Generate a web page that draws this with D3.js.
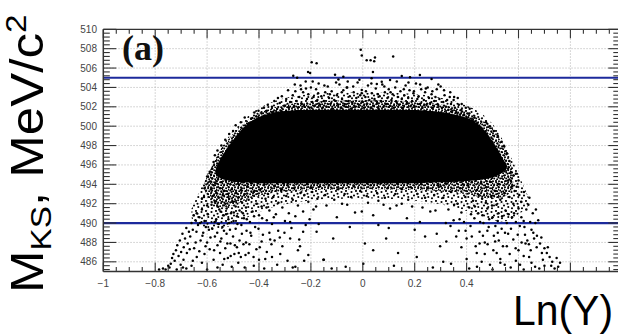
<!DOCTYPE html>
<html><head><meta charset="utf-8">
<script src="https://cdn.jsdelivr.net/npm/d3@7"></script>
<style>body{margin:0;background:#fff}svg{display:block}</style>
</head><body>
<svg id="c" width="618" height="336"></svg>
<script>
// ---- data ----
const xTickValues = [-1,-0.8,-0.6,-0.4,-0.2,0,0.2,0.4];
const xTickLabels = ["\u22121","\u22120.8","\u22120.6","\u22120.4","\u22120.2","0","0.2","0.4"];
const xGridValues = [-0.8,-0.6,-0.4,-0.2,0,0.2,0.4,0.6,0.8];
const yTickValues = [486,488,490,492,494,496,498,500,502,504,506,508,510];
const yTickLabels = ["486","488","490","492","494","496","498","500","502","504","506","508","510"];
const cutValues = [490,505];

// saturated core bounds
const coreX    = [-0.567,-0.55,-0.52,-0.50,-0.47,-0.44,-0.40,-0.35,-0.30,-0.20,-0.10,0.0,0.10,0.20,0.30,0.38,0.43,0.47,0.50,0.52,0.54,0.555];
const coreLow  = [495.0,494.6,494.4,494.3,494.2,494.2,494.1,494.1,494.1,494.1,494.1,494.1,494.1,494.1,494.2,494.3,494.4,494.5,494.7,494.9,495.2,495.6];
const coreHigh = [495.6,496.7,497.8,498.6,499.6,500.4,501.0,501.4,501.6,501.7,501.7,501.7,501.7,501.7,501.5,501.1,500.6,499.6,498.5,497.6,496.6,496.0];
// high-density halo bounds
const haloX    = [-0.61,-0.58,-0.55,-0.50,-0.45,-0.40,-0.30,-0.20,0.0,0.20,0.30,0.40,0.45,0.50,0.55,0.58];
const haloLow  = [493.3,492.0,491.5,491.8,492.4,492.9,493.3,493.4,493.5,493.4,493.3,493.0,492.7,492.4,492.6,493.6];
const haloHigh = [494.2,496.0,497.6,499.3,500.5,501.5,502.3,502.6,502.7,502.6,502.3,501.6,500.9,499.9,497.8,495.2];
// medium-density outer halo bounds
const outerX    = [-0.66,-0.62,-0.58,-0.54,-0.50,-0.45,-0.40,-0.30,-0.20,0.0,0.20,0.30,0.40,0.45,0.50,0.55,0.60,0.64];
const outerLow  = [490.5,489.5,489.2,489.4,489.8,490.5,491.2,492.0,492.4,492.6,492.4,492.0,491.3,490.8,490.3,490.0,490.8,491.8];
const outerHigh = [491.5,493.8,496.2,498.0,499.6,500.9,502.0,503.0,503.4,503.5,503.4,503.0,502.2,501.5,500.4,498.2,495.0,492.6];

const ptsTop = [[-0.197,506.6],[-0.178,506.5],[-0.211,505.6],[-0.203,505.5],[-0.268,505.2],[-0.253,505.0],[-0.107,505.3],[-0.008,507.9],[-0.004,507.3],[0.015,506.8],[0.03,506.8],[0.044,506.7],[0.047,507.1],[0.117,507.2],[0.039,505.6],
[-0.094,504.83],[-0.075,505.1],[0.034,504.94],[0.15,505.18],[0.182,505.04],[0.22,505.28],[0.265,504.87],[0.105,504.76],[0.073,504.59],[0.054,504.35],[0.30,504.1],[0.285,503.8],[-0.062,504.0],[-0.004,503.73],[-0.004,503.4]];

const ptsUpper = [[-0.44,500.3],[-0.43,500.8],[-0.41,501.0],[-0.40,500.7],[-0.39,501.3],[-0.38,501.0],[-0.37,501.6],[-0.36,501.2],[-0.35,502.0],[-0.345,501.5],[-0.33,501.8],[-0.32,502.4],[-0.315,501.6],[-0.30,502.1],[-0.295,502.8],[-0.285,501.9],[-0.28,502.5],[-0.27,503.2],[-0.265,502.0],[-0.26,503.6],[-0.255,502.6],[-0.25,501.9],[-0.245,503.0],[-0.24,504.2],[-0.235,502.3],[-0.23,503.5],[-0.225,502.0],[-0.22,504.6],[-0.215,502.8],[-0.21,503.3],[-0.205,501.9],[-0.20,504.0],[-0.195,502.5],[-0.19,503.0],[-0.185,502.1],[-0.18,503.8],[-0.175,502.7],[-0.17,504.4],[-0.165,502.2],[-0.16,503.1],[-0.155,501.9],[-0.15,502.6],[-0.145,503.5],[-0.14,502.0],[-0.135,504.1],[-0.13,502.9],[-0.125,502.3],[-0.12,503.6],[-0.115,501.8],[-0.11,502.7],[-0.10,503.2],[-0.095,502.2],[-0.09,504.3],[-0.085,501.9],[-0.08,502.8],[-0.075,503.7],[-0.07,502.3],[-0.065,502.0],[-0.06,504.0],[-0.055,502.6],[-0.05,503.1],[-0.045,501.8],[-0.04,502.4],[-0.035,503.5],[-0.03,502.0],[-0.025,502.9],[-0.02,504.5],[-0.015,502.2],[-0.01,503.2],[0.0,502.5],[0.005,501.9],[0.01,503.0],[0.015,502.3],[0.02,504.2],[0.025,502.7],[0.03,501.9],[0.035,503.4],[0.04,502.1],[0.045,502.8],[0.05,503.9],[0.055,502.4],[0.06,501.8],[0.065,503.1],[0.07,502.6],[0.075,504.3],[0.08,502.0],[0.085,503.5],[0.09,502.3],[0.095,502.9],[0.10,503.8],[0.105,502.1],[0.11,502.7],[0.115,503.3],[0.12,501.9],[0.125,504.0],[0.13,502.5],[0.135,503.0],[0.14,502.2],[0.145,503.6],[0.15,502.8],[0.155,501.9],[0.16,503.2],[0.165,504.2],[0.17,502.4],[0.175,502.9],[0.18,503.7],[0.185,502.1],[0.19,502.6],[0.195,503.4],[0.20,502.0],[0.205,504.4],[0.21,502.8],[0.215,503.1],[0.22,502.3],[0.225,503.8],[0.23,501.9],[0.235,502.7],[0.24,503.5],[0.245,502.2],[0.25,504.0],[0.255,502.9],[0.26,502.4],[0.265,503.3],[0.27,501.9],[0.275,502.6],[0.28,503.0],[0.29,502.2],[0.295,502.8],[0.305,501.9],[0.31,502.5],[0.315,503.2],[0.32,502.0],[0.325,502.7],[0.33,501.7],[0.335,503.0],[0.34,502.3],[0.345,501.6],[0.35,502.7],[0.355,501.9],[0.36,501.4],[0.37,502.2],[0.375,501.2],[0.38,501.7],[0.39,501.2],[0.40,500.9],[0.41,501.3],[0.42,500.6],[0.425,500.5],[0.43,500.9],[0.44,500.3],[0.45,500.0],[0.46,499.7],[0.47,499.3],
[-0.312,503.1],[-0.288,503.7],[-0.262,504.3],[-0.238,503.8],[-0.219,503.9],[-0.193,504.6],[-0.172,503.4],[-0.148,504.2],[-0.127,503.3],[-0.103,504.5],[-0.081,503.5],[-0.058,504.6],[-0.037,504.1],[-0.013,504.8],[0.012,503.6],[0.033,504.4],[0.058,503.3],[0.083,504.1],[0.107,503.5],[0.131,504.6],[0.158,503.8],[0.176,504.5],[0.197,503.6],[0.221,504.3],[0.243,503.9],[0.268,503.6],[0.291,504.3],[0.313,503.7],[0.337,503.5],[0.352,503.0],[0.366,502.9],[0.381,502.3],[0.397,501.9],[0.412,501.8],[-0.327,502.9],[-0.341,502.6],[-0.366,502.2],[-0.381,501.9],[-0.402,501.6],[-0.418,501.4]];

const ptsEdge = [[-0.575,496.3],[-0.58,495.6],[-0.585,495.0],[-0.59,495.3],[-0.6,494.8],[-0.57,497.0],[-0.56,497.5],[-0.545,498.0],[-0.53,498.6],[-0.515,499.2],[-0.5,499.5],[-0.49,500.1],[-0.47,500.4],[-0.455,500.9],[-0.61,493.6],[-0.62,492.5],
[0.56,495.6],[0.565,496.4],[0.57,495.2],[0.555,497.2],[0.545,497.9],[0.535,498.4],[0.52,499.0],[0.505,499.5],[0.49,500.0],[0.475,500.4],[0.58,494.9],[0.59,495.1],[0.60,494.4],[0.575,493.8]];

const ptsLowerLeft = [[-0.59,494.3],[-0.585,493.5],[-0.58,494.6],[-0.578,492.8],[-0.575,493.9],[-0.57,492.2],[-0.568,494.1],[-0.565,493.1],[-0.56,491.7],[-0.558,494.5],[-0.555,492.6],[-0.55,493.6],[-0.548,491.2],[-0.545,494.2],[-0.54,492.9],[-0.538,490.8],[-0.535,493.3],[-0.53,492.0],[-0.528,494.4],[-0.525,491.5],[-0.52,493.0],[-0.518,490.4],[-0.515,492.5],[-0.51,494.0],[-0.508,491.0],[-0.505,493.5],[-0.50,492.2],[-0.498,490.2],[-0.495,494.3],[-0.49,491.7],[-0.488,493.1],[-0.485,490.7],[-0.48,492.6],[-0.478,494.0],[-0.475,491.3],[-0.47,493.4],[-0.468,489.8],[-0.465,492.1],[-0.46,494.2],[-0.458,490.5],[-0.455,493.0],[-0.45,491.6],[-0.448,489.2],[-0.445,493.8],[-0.44,492.4],[-0.435,490.1],[-0.43,494.1],[-0.425,491.2],[-0.42,493.2],[-0.415,489.6],[-0.41,492.0],[-0.405,494.3],[-0.40,490.8],[-0.395,493.5],[-0.39,491.7],[-0.385,488.8],[-0.38,494.0],[-0.375,492.5],[-0.37,490.3],[-0.365,493.0],[-0.36,491.3],[-0.355,494.2],[-0.35,489.9],[-0.345,492.7],[-0.34,493.8],[-0.335,490.9],[-0.33,494.4],[-0.325,492.1],[-0.32,488.5],[-0.315,493.4],[-0.31,491.6],[-0.305,494.1],[-0.30,490.2],[-0.295,492.8],[-0.29,493.9],[-0.285,491.0],[-0.28,494.3],[-0.275,489.5],[-0.27,492.4],[-0.265,493.6],[-0.26,490.7],[-0.255,494.2],[-0.25,491.8],[-0.245,488.3],[-0.24,493.1],[-0.235,494.4],[-0.23,491.2],[-0.225,492.9],[-0.22,489.8],[-0.215,494.0],[-0.21,492.2],[-0.205,490.4],[-0.20,493.7],
[-0.64,491.0],[-0.63,490.6],[-0.62,491.4],[-0.61,490.2],[-0.60,491.8],[-0.605,489.6],[-0.615,489.0],[-0.625,488.2],[-0.635,489.8],[-0.645,490.3],[-0.655,489.3],[-0.66,490.0],[-0.665,488.6],[-0.67,489.1],[-0.675,487.9],[-0.68,489.5],[-0.685,488.4],[-0.69,487.5],[-0.695,488.9],[-0.70,487.0],[-0.705,488.2],[-0.71,486.6],[-0.715,487.7],[-0.72,487.2],[-0.725,486.1],[-0.73,486.8],[-0.735,486.4],[-0.74,485.8],[-0.745,485.4],[-0.75,485.6],[-0.76,485.2],[-0.77,485.3],[-0.785,485.2],[-0.65,487.4],[-0.64,486.5],[-0.63,487.1],[-0.62,485.9],[-0.61,486.8],[-0.60,488.0],[-0.59,487.3],[-0.58,489.4],[-0.575,486.2],[-0.57,488.6],[-0.565,490.4],[-0.56,487.7],[-0.555,489.9],[-0.55,486.9],[-0.545,488.4],[-0.54,485.7],[-0.535,489.2],[-0.53,487.4],[-0.525,488.9],[-0.52,486.4],[-0.515,490.0],[-0.51,487.9],[-0.505,485.5],[-0.50,488.6],[-0.495,486.8],[-0.49,489.4],[-0.485,487.5],[-0.48,485.9],[-0.475,488.2],[-0.47,486.5],[-0.46,487.8],[-0.455,485.4],[-0.45,488.0],[-0.44,486.9],[-0.43,488.7],[-0.42,485.6],[-0.41,487.3],[-0.40,486.2],[-0.39,488.1],[-0.38,485.3],[-0.37,487.0],[-0.36,489.0],[-0.35,486.5],[-0.34,488.2],[-0.33,485.7],[-0.31,487.6],[-0.29,486.1],[-0.28,488.4],[-0.26,485.5],[-0.25,487.2],[-0.23,489.1],[-0.21,486.7],[-0.68,485.3],[-0.66,485.6],[-0.60,485.2],[-0.56,485.4],
[-0.612,492.7],[-0.597,490.9],[-0.583,491.9],[-0.571,490.1],[-0.553,491.4],[-0.541,489.6],[-0.527,490.9],[-0.512,489.3],[-0.497,491.1],[-0.483,489.9],[-0.462,491.0],[-0.447,490.4],[-0.433,489.0],[-0.419,490.7],[-0.402,489.4],[-0.388,490.5],[-0.371,491.6],[-0.357,488.3],[-0.343,490.6],[-0.326,489.2],[-0.652,490.8],[-0.641,489.1],[-0.627,490.0],[-0.618,488.7],[-0.606,487.6],[-0.593,489.3],[-0.587,488.5],[-0.573,487.2],[-0.561,489.0],[-0.549,488.1],[-0.534,486.3],[-0.522,487.9],[-0.509,486.6],[-0.493,487.7],[-0.478,486.9],[-0.466,488.9],[-0.452,486.7],[-0.437,487.8],[-0.421,486.5],[-0.397,487.5],[-0.376,486.3],[-0.352,487.8],[-0.318,486.8],[-0.302,489.0],[-0.691,486.2],[-0.702,485.7],[-0.717,485.2],[-0.678,486.9],[-0.667,487.3],[-0.655,486.1],[-0.644,488.0],[-0.693,485.4]];

const ptsLowerMid = [[-0.19,491.4],[-0.17,489.9],[-0.15,486.2],[-0.14,491.8],[-0.114,488.4],[-0.1,490.6],[-0.08,492.0],[-0.066,485.5],[-0.05,489.6],[-0.03,491.1],[-0.004,491.2],[0.002,485.8],[0.008,487.9],[0.02,492.1],[0.04,487.2],[0.04,490.8],[0.06,489.8],[0.08,491.9],[0.09,488.4],[0.1,489.5],[0.105,491.5],[0.12,485.6],[0.136,486.9],[0.15,492.0],[0.17,490.5],[0.19,491.7],[0.208,486.5],[0.22,490.1],[0.24,488.6],[0.26,491.2],[0.285,488.9],[0.298,487.6],[0.27,485.4],[0.20,489.3],[-0.178,489.1],[-0.226,486.1],[-0.27,485.4],[-0.242,487.6],[-0.28,490.1],[-0.152,486.2],[-0.12,485.3],[0.32,490.0],[0.31,486.0],
[-0.195,493.2],[-0.185,494.2],[-0.175,492.5],[-0.165,493.8],[-0.155,494.4],[-0.145,492.9],[-0.13,493.9],[-0.12,494.3],[-0.11,492.4],[-0.095,493.5],[-0.085,494.2],[-0.07,493.0],[-0.06,494.4],[-0.045,492.7],[-0.035,493.8],[-0.02,494.2],[-0.01,493.3],[0.005,494.4],[0.015,492.8],[0.03,493.9],[0.045,494.3],[0.055,493.1],[0.07,494.1],[0.085,492.6],[0.095,493.6],[0.11,494.3],[0.125,493.0],[0.135,494.0],[0.15,493.5],[0.16,494.4],[0.175,492.4],[0.185,493.7],[0.2,494.2],[0.21,493.0],[0.225,494.0],[0.24,492.6],[0.25,493.6],[0.265,494.3],[0.275,492.9],[0.29,493.9],[-0.18,491.7],[-0.06,491.9],[0.06,492.3],[0.13,491.8],[0.23,491.6],[0.28,491.3]];

const ptsLowerRight = [[0.30,493.8],[0.31,492.6],[0.32,494.1],[0.33,491.4],[0.34,493.2],[0.35,490.3],[0.36,494.3],[0.365,492.0],[0.37,489.2],[0.375,493.6],[0.38,491.1],[0.385,494.0],[0.39,490.1],[0.395,492.7],[0.40,488.4],[0.405,493.9],[0.41,491.6],[0.415,489.7],[0.42,494.2],[0.425,492.3],[0.43,490.5],[0.435,487.6],[0.44,493.4],[0.445,491.0],[0.45,489.1],[0.455,494.1],[0.46,492.5],[0.465,490.0],[0.47,488.0],[0.475,493.7],[0.48,491.5],[0.485,489.6],[0.49,494.3],[0.495,492.8],[0.50,490.6],[0.505,488.7],[0.51,493.3],[0.515,491.9],[0.52,490.2],[0.525,494.0],[0.53,492.4],[0.535,489.4],[0.54,487.6],[0.545,493.1],[0.55,491.3],[0.555,490.0],[0.56,494.4],[0.565,492.7],[0.57,494.4],[0.575,490.6],[0.58,492.0],[0.585,493.3],[0.59,490.1],[0.593,493.75],[0.60,491.5],[0.605,489.7],[0.61,492.2],[0.62,490.2],[0.625,488.8],[0.63,491.4],[0.638,491.9],[0.645,490.1],[0.65,489.3],[0.66,488.4],[0.665,490.0],[0.676,490.3],[0.67,487.5],[0.683,487.9],[0.69,486.9],[0.70,487.4],[0.709,486.9],[0.72,486.5],[0.73,486.0],[0.747,486.4],[0.76,485.9],[0.664,485.5],[0.606,485.7],[0.49,485.7],[0.458,486.0],[0.439,486.9],[0.516,486.9],[0.555,487.6],[0.58,488.3],[0.60,487.2],[0.62,486.6],[0.64,487.8],[0.65,485.9],[0.68,485.3],[0.70,485.6],[0.59,486.1],[0.57,485.4],[0.53,485.9],[0.51,488.1],[0.47,486.8],[0.45,487.9],[0.42,488.6],[0.40,486.3],[0.38,487.5],[0.36,488.6],[0.34,485.8],[0.41,485.3],[0.52,489.0],[0.56,488.9],[0.48,489.2],[0.44,485.5],[0.50,485.2],[0.53,486.3],[0.62,485.2],
[0.432,491.7],[0.447,492.9],[0.461,490.8],[0.474,492.1],[0.487,490.4],[0.498,491.8],[0.511,489.7],[0.523,491.0],[0.537,490.7],[0.548,489.0],[0.562,490.9],[0.571,489.4],[0.583,491.0],[0.597,488.8],[0.611,490.6],[0.623,489.6],[0.634,488.2],[0.647,487.2],[0.657,489.0],[0.671,488.7],[0.688,488.5],[0.694,486.2],[0.713,487.5],[0.726,485.6],[0.739,485.3],[0.753,485.5],[0.641,486.5],[0.627,487.9],[0.612,488.0],[0.589,487.4],[0.566,486.8],[0.547,485.7],[0.524,488.2],[0.503,487.2],[0.481,487.8],[0.463,488.7],[0.452,490.1],[0.417,490.9],[0.396,489.2],[0.373,490.4],[0.352,491.9],[0.338,489.7],[0.322,488.1],[0.655,491.0],[0.667,491.4],[0.642,492.6],[0.621,493.2],[0.603,492.9]];

// ---- drawing ----
const svg = d3.select("#c");
const defs = svg.append("defs");
const pDense = defs.append("pattern").attr("id","pDense").attr("patternUnits","userSpaceOnUse").attr("width",6).attr("height",6);
[[1,1.2],[4.1,2.3],[2.2,4.4],[5.2,5.3],[0.3,3.4]].forEach(p=>pDense.append("circle").attr("cx",p[0]).attr("cy",p[1]).attr("r",1.0).attr("fill","#000"));
const pSparse = defs.append("pattern").attr("id","pSparse").attr("patternUnits","userSpaceOnUse").attr("width",10).attr("height",10);
[[1.5,2],[6,1],[4,5.5],[8.3,7],[2,8.2],[7.5,3.8]].forEach(p=>pSparse.append("circle").attr("cx",p[0]).attr("cy",p[1]).attr("r",1.05).attr("fill","#000"));

svg.append("rect").attr("width",618).attr("height",336).attr("fill","#fff");
const x = d3.scaleLinear().domain([-1,1]).range([103.3,622.3]);
const y = d3.scaleLinear().domain([485,510]).range([271.5,29.3]);
const [x0,x1] = x.range(), [yb,yt] = y.range();

// grid
const grid = svg.append("g").attr("stroke","#bdbdbd").attr("stroke-width",0.8).attr("stroke-dasharray","1.5,1.5");
grid.selectAll(".gx").data(xGridValues).join("line").attr("x1",d=>x(d)).attr("x2",d=>x(d)).attr("y1",yt).attr("y2",yb);
grid.selectAll(".gy").data(yTickValues.filter(v=>v<510)).join("line").attr("y1",d=>y(d)).attr("y2",d=>y(d)).attr("x1",x0).attr("x2",x1);

// cut lines
svg.append("g").selectAll("line").data(cutValues).join("line")
  .attr("x1",x0).attr("x2",x1).attr("y1",d=>y(d)).attr("y2",d=>y(d))
  .attr("stroke","#1c2a9c").attr("stroke-width",2.2);

// density regions
const band = (xs,lo,hi)=>xs.map((v,i)=>({x:v,lo:lo[i],hi:hi[i]}));
const areaGen = d3.area().x(d=>x(d.x)).y0(d=>y(d.lo)).y1(d=>y(d.hi)).curve(d3.curveBasis);
svg.append("path").datum(band(outerX,outerLow,outerHigh)).attr("d",areaGen).attr("fill","url(#pSparse)");
svg.append("path").datum(band(haloX,haloLow,haloHigh)).attr("d",areaGen).attr("fill","url(#pDense)");
svg.append("path").datum(band(coreX,coreLow,coreHigh)).attr("d",areaGen).attr("fill","#000");

// points
const allPts = [].concat(ptsTop, ptsUpper, ptsEdge, ptsLowerLeft, ptsLowerMid, ptsLowerRight);
svg.append("g").selectAll("circle").data(allPts).join("circle")
  .attr("cx",d=>x(d[0])).attr("cy",d=>y(d[1])).attr("r",1.25).attr("fill","#000");

// frame + ticks
const ax = svg.append("g").attr("stroke","#333").attr("fill","none");
ax.append("line").attr("x1",x0).attr("x2",x1).attr("y1",yb).attr("y2",yb).attr("stroke-width",1.5);
ax.append("line").attr("x1",x0).attr("x2",x1).attr("y1",yt).attr("y2",yt).attr("stroke-width",1.2);
ax.append("line").attr("x1",x0).attr("x2",x0).attr("y1",yt).attr("y2",yb).attr("stroke-width",1.5);
const xMinor = x.ticks(40), yMinor = d3.range(485.2,510.01,0.4);
const isMajorX = v => Math.abs(v*5 - Math.round(v*5))<1e-6;
xMinor.forEach(v=>{
  const L = isMajorX(v)?9:4.5;
  ax.append("line").attr("x1",x(v)).attr("x2",x(v)).attr("y1",yb).attr("y2",yb-L).attr("stroke-width",1.1);
  ax.append("line").attr("x1",x(v)).attr("x2",x(v)).attr("y1",yt).attr("y2",yt+L).attr("stroke-width",1.1);
});
yMinor.forEach(v=>{
  const maj = Math.abs(v/2-Math.round(v/2))<1e-3;
  ax.append("line").attr("y1",y(v)).attr("y2",y(v)).attr("x1",x0).attr("x2",x0+(maj?13:6.5)).attr("stroke-width",1.1);
  ax.append("line").attr("y1",y(v)).attr("y2",y(v)).attr("x1",x1).attr("x2",x1-(maj?14:9)).attr("stroke-width",1.1);
});

// tick labels
const lab = svg.append("g").attr("font-family","Liberation Sans, Arial, sans-serif").attr("font-size",10).attr("fill","#444");
lab.selectAll(".yl").data(yTickValues).join("text").attr("x",97).attr("y",d=>y(d)).attr("dy","0.35em").attr("text-anchor","end").text((d,i)=>yTickLabels[i]);
lab.selectAll(".xl").data(xTickValues).join("text").attr("x",d=>x(d)).attr("y",287).attr("text-anchor","middle").text((d,i)=>xTickLabels[i]);

// panel label
svg.append("text").attr("x",122).attr("y",60).attr("font-family","Liberation Serif, Times New Roman, serif")
  .attr("font-weight","bold").attr("font-size",36).attr("fill","#111").text("(a)");

// x title with white box
svg.append("rect").attr("x",505).attr("y",276).attr("width",113).attr("height",60).attr("fill","#fff");
svg.append("text").attr("x",513).attr("y",325).attr("font-family","Liberation Sans, Arial, sans-serif")
  .attr("font-size",43).attr("textLength",100).attr("lengthAdjust","spacingAndGlyphs").attr("fill","#000").text("Ln(Y)");

// y title
const yt2 = svg.append("text").attr("transform","translate(43,293) rotate(-90) scale(1.11,1)")
  .attr("font-family","Liberation Sans, Arial, sans-serif").attr("font-size",46).attr("fill","#000");
yt2.append("tspan").text("M");
yt2.append("tspan").attr("font-size",30).attr("dy",8).text("KS");
yt2.append("tspan").attr("dy",-8).text(", MeV/c");
yt2.append("tspan").attr("font-size",30).attr("dy",-17).text("2");
</script>
</body></html>
